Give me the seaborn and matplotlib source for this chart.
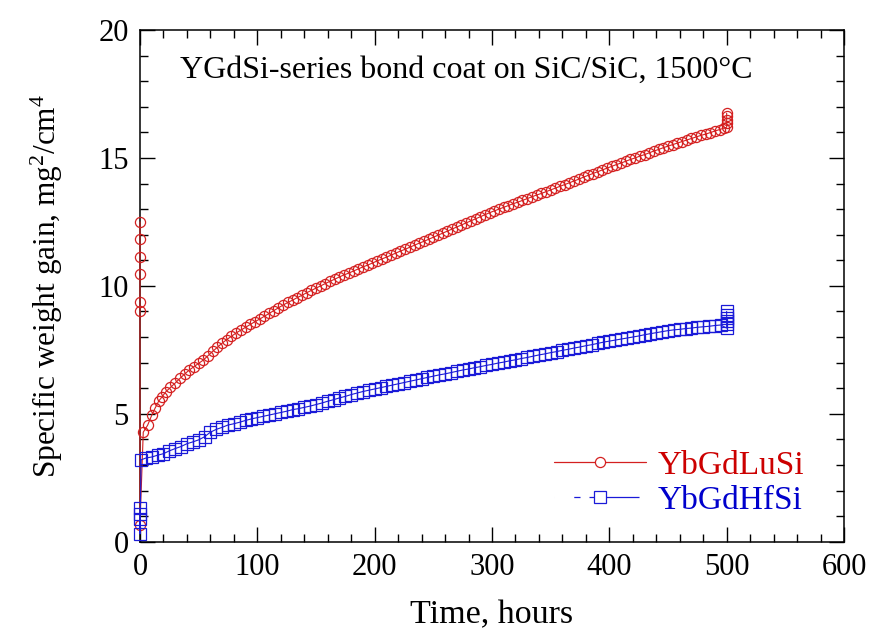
import numpy as np
import pandas as pd
import seaborn as sns
import matplotlib
matplotlib.use("Agg")
import matplotlib.pyplot as plt
from matplotlib.lines import Line2D
from matplotlib.ticker import MultipleLocator

# ---------------- data ----------------
lusi_time = [0, 0, 0, 0, 0, 0, 0, 2.8, 6.5, 10, 13, 16, 19, 22,
             26, 30, 34, 38, 42, 46, 50, 54, 58, 62, 66, 70, 74, 78,
             82, 86, 90, 94, 98, 102, 106, 110, 114, 118, 122, 126, 130,
             134, 138, 142, 146, 150, 154, 158, 162, 166, 170, 174, 178,
             182, 186, 190, 194, 198, 202, 206, 210, 214, 218, 222, 226,
             230, 234, 238, 242, 246, 250, 254, 258, 262, 266, 270, 274,
             278, 282, 286, 290, 294, 298, 302, 306, 310, 314, 318, 322,
             326, 330, 334, 338, 342, 346, 350, 354, 358, 362, 366, 370,
             374, 378, 382, 386, 390, 394, 398, 402, 406, 410, 414, 418,
             422, 426, 430, 434, 438, 442, 446, 450, 454, 458, 462, 466,
             470, 474, 478, 482, 486, 490, 494, 498,
             500, 500, 500, 500, 500]
lusi_gain = [12.50, 11.82, 11.14, 10.47, 9.36, 9.02, 0.65, 4.28, 4.55, 4.94, 5.23, 5.50, 5.67, 5.86,
             6.03, 6.20, 6.38, 6.55, 6.71, 6.84, 6.97, 7.10, 7.27, 7.44, 7.60, 7.76, 7.90, 8.03,
             8.16, 8.27, 8.38, 8.49, 8.60, 8.70, 8.81, 8.92, 9.03, 9.14, 9.25, 9.35, 9.44,
             9.54, 9.63, 9.73, 9.82, 9.91, 10.00, 10.09, 10.18, 10.26, 10.35, 10.43, 10.50,
             10.58, 10.66, 10.74, 10.81, 10.89, 10.97, 11.05, 11.12, 11.20, 11.28, 11.36, 11.43,
             11.51, 11.59, 11.67, 11.74, 11.82, 11.90, 11.98, 12.06, 12.14, 12.22, 12.30, 12.38,
             12.46, 12.54, 12.62, 12.70, 12.78, 12.86, 12.93, 13.00, 13.07, 13.14, 13.21, 13.27,
             13.34, 13.41, 13.48, 13.55, 13.61, 13.68, 13.75, 13.82, 13.89, 13.96, 14.03, 14.10,
             14.17, 14.25, 14.32, 14.39, 14.46, 14.53, 14.60, 14.67, 14.74, 14.80, 14.87, 14.94,
             15.00, 15.07, 15.13, 15.20, 15.27, 15.33, 15.40, 15.46, 15.52, 15.58, 15.64, 15.70,
             15.76, 15.82, 15.88, 15.93, 15.99, 16.05, 16.11, 16.17,
             16.20, 16.35, 16.50, 16.62, 16.75]

hfsi_time = [0, 0, 0, 0, 1, 5, 10, 15, 20, 25, 30, 35, 40, 45, 50, 55, 60, 65,
             70, 75, 80, 85, 90, 95, 100, 105, 110, 115, 120, 125, 130, 135,
             140, 145, 150, 155, 160, 165, 170, 175, 180, 185, 190, 195, 200,
             205, 210, 215, 220, 225, 230, 235, 240, 245, 250, 255, 260, 265,
             270, 275, 280, 285, 290, 295, 300, 305, 310, 315, 320, 325, 330,
             335, 340, 345, 350, 355, 360, 365, 370, 375, 380, 385, 390, 395,
             400, 405, 410, 415, 420, 425, 430, 435, 440, 445, 450, 455, 460,
             465, 470, 475, 480, 485, 490, 495,
             500, 500, 500, 500, 500, 500]
hfsi_gain = [1.31, 1.10, 0.90, 0.30, 3.20, 3.27, 3.31, 3.38, 3.44, 3.55, 3.64, 3.72, 3.83, 3.90, 3.98, 4.10, 4.28, 4.39,
             4.47, 4.56, 4.61, 4.67, 4.74, 4.80, 4.85, 4.90, 4.95, 5.00, 5.05, 5.10, 5.16, 5.20,
             5.25, 5.30, 5.36, 5.42, 5.49, 5.55, 5.62, 5.68, 5.75, 5.81, 5.87, 5.92, 5.97,
             6.02, 6.07, 6.12, 6.17, 6.22, 6.27, 6.32, 6.37, 6.42, 6.47, 6.52, 6.56, 6.61,
             6.66, 6.71, 6.75, 6.80, 6.84, 6.89, 6.93, 6.98, 7.02, 7.07, 7.11, 7.16, 7.20,
             7.25, 7.30, 7.34, 7.39, 7.43, 7.48, 7.52, 7.57, 7.61, 7.66, 7.70, 7.75, 7.80,
             7.84, 7.88, 7.92, 7.96, 8.00, 8.04, 8.09, 8.13, 8.17, 8.21, 8.25, 8.28, 8.30,
             8.33, 8.35, 8.38, 8.40, 8.42, 8.45, 8.47,
             8.35, 8.50, 8.62, 8.75, 8.88, 9.00]

series_names = ["YbGdLuSi", "YbGdHfSi"]
series_colors = ["#cc0000", "#0000cc"]
marker_colors = ["#d42020", "#1a1ad8"]
title_text = "YGdSi-series bond coat on SiC/SiC, 1500\u00b0C"
x_label = "Time, hours"
y_label = r"Specific weight gain, mg$^2$/cm$^4$"

# ---------------- style ----------------
sns.set_theme(style="ticks")
plt.rcParams["font.family"] = ["Liberation Serif", "DejaVu Serif"]
plt.rcParams["mathtext.fontset"] = "custom"
plt.rcParams["mathtext.rm"] = "Liberation Serif"
plt.rcParams["mathtext.it"] = "Liberation Serif:italic"
plt.rcParams["mathtext.bf"] = "Liberation Serif:bold"
plt.rcParams["text.color"] = "black"
plt.rcParams["axes.labelcolor"] = "black"
plt.rcParams["xtick.color"] = "black"
plt.rcParams["ytick.color"] = "black"

fig = plt.figure(figsize=(8.71, 6.29), dpi=100)
ax = fig.add_axes([0.1607, 0.1388, 0.8083, 0.8135])

df_lu = pd.DataFrame({"t": lusi_time, "w": lusi_gain})
df_hf = pd.DataFrame({"t": hfsi_time, "w": hfsi_gain})

sns.lineplot(data=df_lu, x="t", y="w", estimator=None, sort=False, ax=ax,
             color=marker_colors[0], linewidth=0.8, marker="o", markersize=7.3,
             markerfacecolor="none", markeredgecolor=marker_colors[0],
             markeredgewidth=0.9, clip_on=False, zorder=3)
sns.lineplot(data=df_hf, x="t", y="w", estimator=None, sort=False, ax=ax,
             color=marker_colors[1], linewidth=0.8, marker="s", markersize=8,
             markerfacecolor="none", markeredgecolor=marker_colors[1],
             markeredgewidth=0.9, clip_on=False, zorder=3)

ax.set_xlim(0, 600)
ax.set_ylim(0, 20)
ax.xaxis.set_major_locator(MultipleLocator(100))
ax.xaxis.set_minor_locator(MultipleLocator(20))
ax.yaxis.set_major_locator(MultipleLocator(5))
ax.yaxis.set_minor_locator(MultipleLocator(1))
ax.tick_params(which="both", direction="in", top=True, right=True,
               width=1.0, colors="black", labelsize=22)
ax.tick_params(which="major", length=10.5, pad=8)
ax.tick_params(which="minor", length=6)
for sp in ax.spines.values():
    sp.set_visible(True)
    sp.set_linewidth(1.1)
    sp.set_color("black")

ax.set_xlabel(x_label, fontsize=24.5, labelpad=13)
ax.set_ylabel(y_label, fontsize=22.5, labelpad=24)

ax.text(0.057, 0.922, title_text, transform=ax.transAxes, fontsize=23,
        ha="left", va="center", color="black")

handles = [
    Line2D([], [], color=marker_colors[0], linewidth=0.9, marker="o",
           markersize=7.3, markerfacecolor="white", markeredgecolor=marker_colors[0],
           markeredgewidth=0.9),
    Line2D([], [], color=marker_colors[1], linewidth=0.9, marker="s",
           markersize=8, markerfacecolor="white", markeredgecolor=marker_colors[1],
           markeredgewidth=0.9, linestyle=(0, (0.01, 15.8, 5, 7.2, 40, 30))),
]
leg = ax.legend(handles, series_names, loc="lower right", frameon=False,
                fontsize=24, handlelength=2.75, handletextpad=0.35,
                labelspacing=0.12, borderaxespad=0.0,
                bbox_to_anchor=(0.962, 0.025), labelcolor=series_colors)

fig.savefig("out.png", dpi=100)
